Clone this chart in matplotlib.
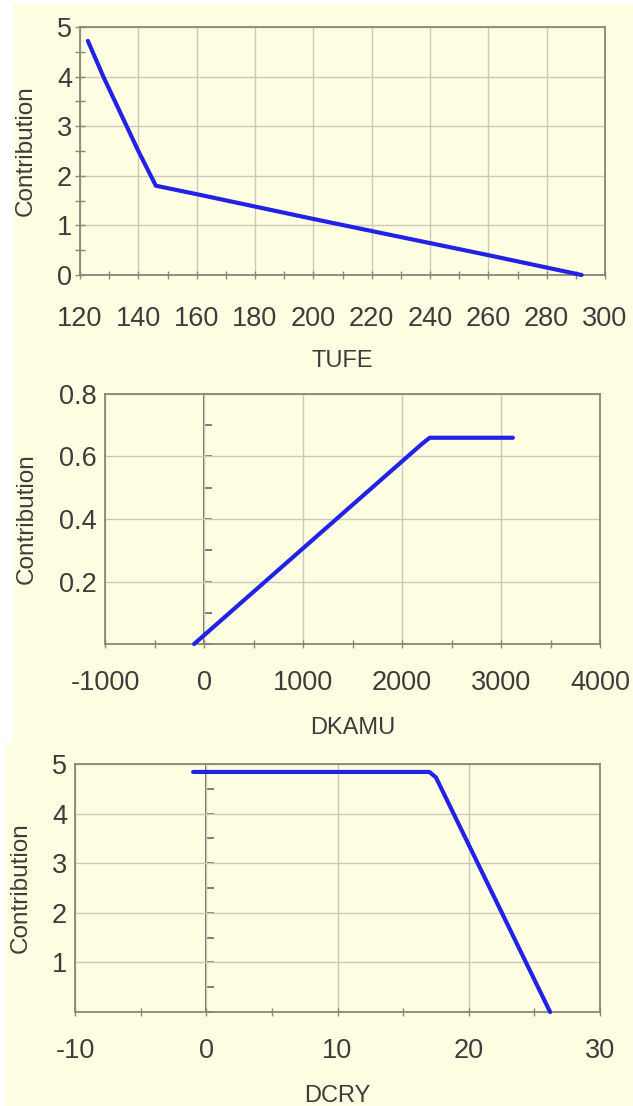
import numpy as np
import matplotlib.pyplot as plt
from matplotlib.patches import Rectangle
from matplotlib.ticker import MultipleLocator, NullFormatter

W, H = 633, 1106

# TUFE panel
tufe_x = [122.7, 128, 140, 146, 160, 200, 260, 292]
tufe_y = [4.72, 4.0, 2.5, 1.8, 1.63, 1.13, 0.4, 0.0]

# DKAMU panel
dkamu_x = [-100, 2200, 2280, 3120]
dkamu_y = [0.0, 0.64, 0.66, 0.66]

# DCRY panel
dcry_x = [-1, 17.0, 17.5, 26.2]
dcry_y = [4.84, 4.84, 4.73, 0.0]

BG = '#fefee3'
FRAME = '#88887a'
GRID = '#cacab8'
AXIS = '#5c5c52'
TEXT = '#3c3c3c'
BLUE = '#2222e6'

plt.rcParams['font.family'] = ['Liberation Sans', 'DejaVu Sans']
plt.rcParams['axes.unicode_minus'] = False

fig = plt.figure(figsize=(W / 100, H / 100), dpi=100, facecolor='white')


def fig_rect(l, t, r, b):
    return [l / W, 1 - b / H, (r - l) / W, (b - t) / H]


# yellow panel backgrounds
for l, t, r, b in [(13, 4, 633, 370), (13, 370, 633, 741), (6, 742, 633, 1106)]:
    x0, y0, w, h = fig_rect(l, t, r, b)
    fig.add_artist(Rectangle((x0, y0), w, h, transform=fig.transFigure,
                             facecolor=BG, edgecolor='none', zorder=-1))


def panel(box, xs, ys, xlim, ylim, xstep, xminor, yticks, yminor, xlabel,
          xpad, xlab_top, ylab_right, zero_axis):
    l, t, r, b = box
    ax = fig.add_axes(fig_rect(l, t, r, b))
    ax.set_facecolor(BG)
    ax.set_xlim(*xlim)
    ax.set_ylim(*ylim)
    ax.xaxis.set_major_locator(MultipleLocator(xstep))
    ax.xaxis.set_minor_locator(MultipleLocator(xminor))
    ax.set_yticks(yticks)
    ax.grid(True, which='major', color=GRID, lw=1.0)
    ax.set_axisbelow(True)
    for s in ax.spines.values():
        s.set_color(FRAME)
        s.set_linewidth(1.3)

    ax.tick_params(axis='x', which='both', direction='inout', length=6, width=1,
                   color=FRAME, labelsize=19.5, labelcolor=TEXT, pad=xpad)
    if zero_axis:
        ax.tick_params(axis='y', which='both', length=0, labelsize=19.5,
                       labelcolor=TEXT, pad=5.8)
        # the vertical axis line at x = 0 with its own tick marks
        sec = ax.secondary_yaxis((0 - xlim[0]) / (xlim[1] - xlim[0]))
        sec.yaxis.set_major_locator(MultipleLocator(yminor))
        sec.yaxis.set_major_formatter(NullFormatter())
        sec.yaxis.set_tick_params(which='both', direction='in', length=6,
                                  width=1.1, color=AXIS)
        for s in sec.spines.values():
            s.set_color(AXIS)
            s.set_linewidth(1.3)
    else:
        ax.yaxis.set_minor_locator(MultipleLocator(yminor))
        ax.tick_params(axis='y', which='both', direction='inout', length=7, width=1,
                       color=FRAME, labelsize=19.5, labelcolor=TEXT, pad=2.2)

    ax.plot(xs, ys, color=BLUE, lw=3, solid_capstyle='round',
            solid_joinstyle='round', clip_on=False, zorder=3)

    ax.set_xlabel(xlabel, fontsize=17, color=TEXT)
    ax.xaxis.set_label_coords(0.5, (b - xlab_top) / (b - t))
    ax.set_ylabel('Contribution', fontsize=17.5, color=TEXT)
    ax.yaxis.set_label_coords((ylab_right - l) / (r - l), 0.5)
    return ax


panel((80, 27, 605, 275), tufe_x, tufe_y, (120, 300), (0, 5), 20, 10,
      [0, 1, 2, 3, 4, 5], 0.5, 'TUFE', 19, 350, 37, False)
panel((105, 394, 600, 644), dkamu_x, dkamu_y, (-1000, 4000), (0, 0.8), 1000, 500,
      [0.2, 0.4, 0.6, 0.8], 0.1, 'DKAMU', 15.7, 717, 38, True)
panel((75, 764, 600, 1012), dcry_x, dcry_y, (-10, 30), (0, 5), 10, 5,
      [1, 2, 3, 4, 5], 0.5, 'DCRY', 15.7, 1085, 32, True)

fig.savefig('out.png', dpi=100, facecolor='white')
